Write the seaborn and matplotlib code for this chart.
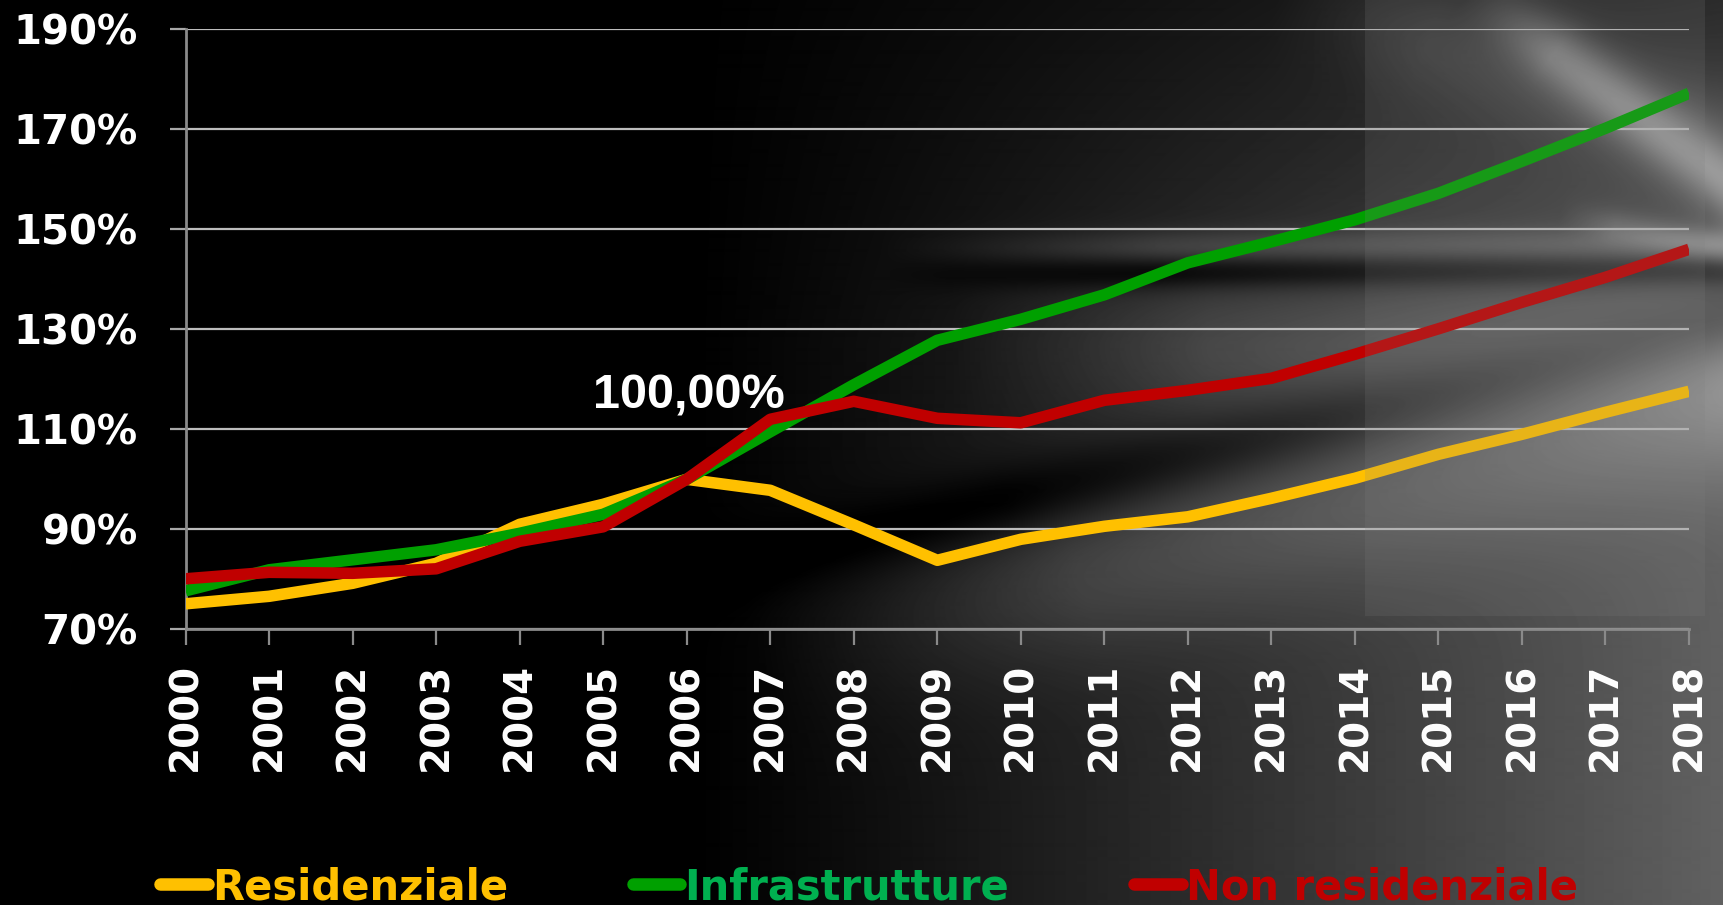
import numpy as np
import pandas as pd
import matplotlib
matplotlib.use("Agg")
import matplotlib.pyplot as plt
import seaborn as sns
from matplotlib.patches import Rectangle

# ---------------- data ----------------
anni = list(range(2000, 2019))
residenziale = [75.1, 76.6, 79.2, 83.2, 91.0, 95.0, 100.0, 97.8, 90.9, 83.8, 88.0, 90.6,
                92.5, 96.2, 100.2, 105.0, 109.0, 113.4, 117.6]
infrastrutture = [77.7, 81.9, 83.9, 85.9, 89.2, 93.0, 100.0, 109.5, 118.9, 127.8, 132.0, 136.9,
                  143.3, 147.5, 151.9, 157.2, 163.6, 170.2, 177.2]
non_residenziale = [80.1, 81.4, 81.2, 82.1, 87.6, 90.5, 100.0, 112.0, 115.6, 112.2, 111.3, 115.8,
                    117.8, 120.2, 125.0, 130.1, 135.4, 140.4, 146.0]
serie = ["Residenziale", "Infrastrutture", "Non residenziale"]
colori_linee = ["#FFC000", "#00A000", "#C00000"]
colori_testo = ["#FFC000", "#00B050", "#C00000"]
y_ticks = [70, 90, 110, 130, 150, 170, 190]
annotazione_valore = 100.0

df = pd.DataFrame({
    "Anno": anni * 3,
    "Valore": residenziale + infrastrutture + non_residenziale,
    "Serie": [s for s in serie for _ in anni],
})

W, H = 1723, 905
fig = plt.figure(figsize=(W / 100, H / 100), dpi=100)
fig.patch.set_facecolor("black")

# ---------------- decorative background ----------------
yy, xx = np.mgrid[0:H, 0:W].astype(float)
X = xx / W
Y = yy / H
bg = 0.38 * np.clip((X - 0.40) / 0.60, 0, 1) ** 1.1 * (0.45 + 0.55 * np.clip(Y / 0.38, 0, 1))


def band(x0, y0, x1, y1, sigma, amp):
    dx, dy = x1 - x0, y1 - y0
    L = np.hypot(dx, dy)
    nx, ny = -dy / L, dx / L
    d = (xx - x0) * nx + (yy - y0) * ny
    t = ((xx - x0) * dx + (yy - y0) * dy) / L ** 2
    fade = np.clip(t * 3, 0, 1)
    return amp * np.exp(-0.5 * (d / sigma) ** 2) * fade


bg += band(880, 250, 1723, 244, 12, 0.11)
bg += band(880, 274, 1723, 270, 12, -0.15)
bg += band(950, 345, 1723, 350, 55, 0.10)
bg += band(650, 590, 1723, 325, 26, -0.13)
bg += band(760, 660, 1723, 410, 60, 0.13)
bg += band(1470, -10, 1723, 180, 22, 0.26)
bg += band(1280, -10, 1723, 140, 40, 0.10)
bg += band(1560, 215, 1723, 250, 12, 0.12)
bg = np.clip(bg, 0, 1)

bax = fig.add_axes([0, 0, 1, 1], zorder=-5)
bax.imshow(bg, cmap="gray", vmin=0, vmax=1, aspect="auto", interpolation="bilinear")
bax.set_axis_off()

# ---------------- main chart ----------------
ax = fig.add_axes([185.6 / W, 1 - 629.3 / H, (1689 - 185.6) / W, (629.3 - 29.3) / H])
ax.set_facecolor("none")

sns.lineplot(data=df, x="Anno", y="Valore", hue="Serie", hue_order=serie,
             palette=colori_linee, linewidth=8.3, estimator=None, ax=ax, legend=False,
             solid_joinstyle="round", solid_capstyle="butt", zorder=3)

ax.set_xlim(anni[0], anni[-1])
ax.set_ylim(y_ticks[0], y_ticks[-1])
ax.set_xticks(anni)
ax.set_xticklabels([str(a) for a in anni], rotation=90)
ax.set_yticks(y_ticks)
ax.set_yticklabels([f"{v}%" for v in y_ticks])
ax.set_xlabel("")
ax.set_ylabel("")

ax.grid(axis="y", color="#bdbdbd", linewidth=1.6, zorder=1)
ax.grid(axis="x", visible=False)
for s in ["top", "right"]:
    ax.spines[s].set_visible(False)
for s in ["left", "bottom"]:
    ax.spines[s].set_color("#8a8a8a")
    ax.spines[s].set_linewidth(2)

ax.tick_params(axis="y", colors="#a8a8a8", length=11.5, width=1.6, pad=23,
               labelcolor="white", labelsize=29)
ax.tick_params(axis="x", colors="#8a8a8a", length=11.5, width=1.6, pad=12.5,
               labelcolor="white", labelsize=28)
for lab in ax.get_xticklabels() + ax.get_yticklabels():
    lab.set_fontweight("bold")
    lab.set_family("DejaVu Sans")

ax.text(2004.88, 116.7, f"{annotazione_valore:.2f}%".replace(".", ","), color="white",
        fontsize=35, fontweight="bold", family=["Liberation Sans", "DejaVu Sans"],
        ha="left", va="center", zorder=4)

# ---------------- legend ----------------
handles = ax.get_lines()[:3]
leg = fig.legend(handles, serie, ncol=3, loc="center left",
                 bbox_to_anchor=(160 / W, 1 - 887 / H), frameon=False,
                 prop={"family": "DejaVu Sans", "weight": "bold", "size": 30},
                 handlelength=1.14, handletextpad=0.1, columnspacing=3.0,
                 borderpad=0, borderaxespad=0)
for txt, c in zip(leg.get_texts(), colori_testo):
    txt.set_color(c)
for ln in leg.get_lines():
    ln.set_linewidth(9)
    ln.set_solid_capstyle("round")

# ---------------- light overlay panel ----------------
fig.add_artist(Rectangle((1365 / W, 1 - 616 / H), (1705 - 1365) / W, 616 / H,
                         transform=fig.transFigure, facecolor="#808080", alpha=0.18,
                         edgecolor="none", zorder=10))

fig.savefig("out.png", dpi=100, facecolor="black")
